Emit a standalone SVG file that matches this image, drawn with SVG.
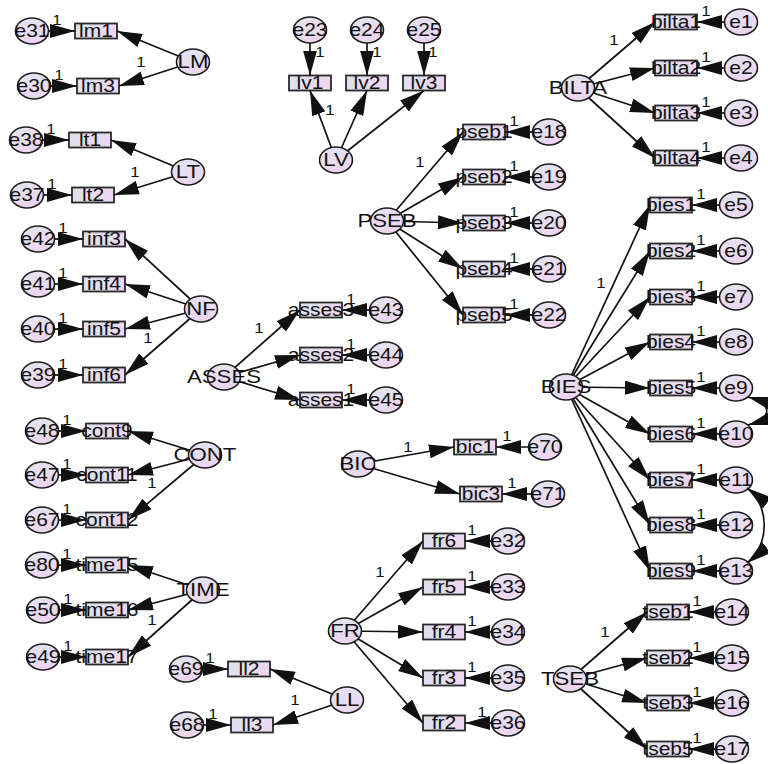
<svg xmlns="http://www.w3.org/2000/svg" width="768" height="764" viewBox="0 0 768 764">
<defs>
  <linearGradient id="gE" x1="0" y1="0" x2="0.4" y2="1">
    <stop offset="0" stop-color="#e3e5f1"/>
    <stop offset="1" stop-color="#ecd5f0"/>
  </linearGradient>
  <linearGradient id="gR" x1="0" y1="0" x2="1" y2="0">
    <stop offset="0" stop-color="#dde2ee"/>
    <stop offset="1" stop-color="#eed6f0"/>
  </linearGradient>
  <marker id="ah" viewBox="0 0 25 14" refX="25" refY="7" markerWidth="25" markerHeight="14" markerUnits="userSpaceOnUse" orient="auto-start-reverse">
    <path d="M0,0 L25,7 L0,14 z" fill="#111"/>
  </marker>
</defs>
<style>
  text { font-family: "Liberation Sans", Arial, sans-serif; fill: #111; text-anchor: middle; transform-box: fill-box; transform-origin: center; transform: scaleX(1.2); }
  .obs rect { fill: url(#gR); stroke: #2a2a2a; stroke-width: 1.8; }
  .err ellipse, .lat ellipse { fill: url(#gE); stroke: #1e1e1e; stroke-width: 1.6; }
  .obs text, .err text { font-size: 17.5px; }
  .lat text { font-size: 18.5px; }
  .cn line, .cn path { stroke: #111; stroke-width: 1.7; fill: none; marker-end: url(#ah); }
  .cn path.cov { marker-start: url(#ah); }
  .w text { font-size: 14px; }
</style>
<rect width="768" height="764" fill="#ffffff"/>

<!-- observed indicators -->
<g id="indicators">
  <g id="lm1" class="obs"><rect x="75" y="23.5" width="42" height="15"/><text x="96" y="37">lm1</text></g>
  <g id="lm3" class="obs"><rect x="77" y="78.5" width="42" height="15"/><text x="98" y="92">lm3</text></g>
  <g id="lt1" class="obs"><rect x="69" y="132.5" width="42" height="15"/><text x="90" y="146">lt1</text></g>
  <g id="lt2" class="obs"><rect x="72" y="187.5" width="42" height="15"/><text x="93" y="201">lt2</text></g>
  <g id="inf3" class="obs"><rect x="83" y="231.5" width="42" height="15"/><text x="104" y="245">inf3</text></g>
  <g id="inf4" class="obs"><rect x="83" y="276.5" width="42" height="15"/><text x="104" y="290">inf4</text></g>
  <g id="inf5" class="obs"><rect x="83" y="321.5" width="42" height="15"/><text x="104" y="335">inf5</text></g>
  <g id="inf6" class="obs"><rect x="83" y="367.5" width="42" height="15"/><text x="104" y="381">inf6</text></g>
  <g id="cont9" class="obs"><rect x="86" y="423.5" width="42" height="15"/><text x="107" y="437">cont9</text></g>
  <g id="cont11" class="obs"><rect x="86" y="467.5" width="42" height="15"/><text x="107" y="481">cont11</text></g>
  <g id="cont12" class="obs"><rect x="86" y="512.5" width="42" height="15"/><text x="107" y="526">cont12</text></g>
  <g id="time15" class="obs"><rect x="86" y="557.5" width="42" height="15"/><text x="107" y="571">time15</text></g>
  <g id="time16" class="obs"><rect x="86" y="602.5" width="42" height="15"/><text x="107" y="616">time16</text></g>
  <g id="time17" class="obs"><rect x="86" y="649.5" width="42" height="15"/><text x="107" y="663">time17</text></g>
  <g id="ll2" class="obs"><rect x="228" y="661.5" width="42" height="15"/><text x="249" y="675">ll2</text></g>
  <g id="ll3" class="obs"><rect x="231" y="717.5" width="42" height="15"/><text x="252" y="731">ll3</text></g>
  <g id="lv1" class="obs"><rect x="289" y="75.5" width="42" height="15"/><text x="310" y="89">lv1</text></g>
  <g id="lv2" class="obs"><rect x="346" y="75.5" width="42" height="15"/><text x="367" y="89">lv2</text></g>
  <g id="lv3" class="obs"><rect x="403" y="75.5" width="42" height="15"/><text x="424" y="89">lv3</text></g>
  <g id="pseb1" class="obs"><rect x="463" y="124.5" width="42" height="15"/><text x="484" y="138">pseb1</text></g>
  <g id="pseb2" class="obs"><rect x="463" y="169.5" width="42" height="15"/><text x="484" y="183">pseb2</text></g>
  <g id="pseb3" class="obs"><rect x="463" y="215.5" width="42" height="15"/><text x="484" y="229">pseb3</text></g>
  <g id="pseb4" class="obs"><rect x="463" y="261.5" width="42" height="15"/><text x="484" y="275">pseb4</text></g>
  <g id="pseb5" class="obs"><rect x="463" y="307.5" width="42" height="15"/><text x="484" y="321">pseb5</text></g>
  <g id="asses3" class="obs"><rect x="300" y="302.5" width="42" height="15"/><text x="321" y="316">asses3</text></g>
  <g id="asses2" class="obs"><rect x="300" y="347.5" width="42" height="15"/><text x="321" y="361">asses2</text></g>
  <g id="asses1" class="obs"><rect x="300" y="392.5" width="42" height="15"/><text x="321" y="406">asses1</text></g>
  <g id="bic1" class="obs"><rect x="454" y="439.5" width="42" height="15"/><text x="475" y="453">bic1</text></g>
  <g id="bic3" class="obs"><rect x="460" y="486.5" width="42" height="15"/><text x="481" y="500">bic3</text></g>
  <g id="fr6" class="obs"><rect x="423" y="533.5" width="42" height="15"/><text x="444" y="547">fr6</text></g>
  <g id="fr5" class="obs"><rect x="423" y="579.5" width="42" height="15"/><text x="444" y="593">fr5</text></g>
  <g id="fr4" class="obs"><rect x="423" y="624.5" width="42" height="15"/><text x="444" y="638">fr4</text></g>
  <g id="fr3" class="obs"><rect x="423" y="670.5" width="42" height="15"/><text x="444" y="684">fr3</text></g>
  <g id="fr2" class="obs"><rect x="423" y="715.5" width="42" height="15"/><text x="444" y="729">fr2</text></g>
  <g id="bilta1" class="obs"><rect x="655" y="14.5" width="42" height="15"/><text x="676" y="28">bilta1</text></g>
  <g id="bilta2" class="obs"><rect x="655" y="60.5" width="42" height="15"/><text x="676" y="74">bilta2</text></g>
  <g id="bilta3" class="obs"><rect x="655" y="105.5" width="42" height="15"/><text x="676" y="119">bilta3</text></g>
  <g id="bilta4" class="obs"><rect x="655" y="150.5" width="42" height="15"/><text x="676" y="164">bilta4</text></g>
  <g id="bies1" class="obs"><rect x="650" y="197.5" width="42" height="15"/><text x="671" y="211">bies1</text></g>
  <g id="bies2" class="obs"><rect x="650" y="243.5" width="42" height="15"/><text x="671" y="257">bies2</text></g>
  <g id="bies3" class="obs"><rect x="650" y="289.5" width="42" height="15"/><text x="671" y="303">bies3</text></g>
  <g id="bies4" class="obs"><rect x="650" y="334.5" width="42" height="15"/><text x="671" y="348">bies4</text></g>
  <g id="bies5" class="obs"><rect x="650" y="380.5" width="42" height="15"/><text x="671" y="394">bies5</text></g>
  <g id="bies6" class="obs"><rect x="650" y="426.5" width="42" height="15"/><text x="671" y="440">bies6</text></g>
  <g id="bies7" class="obs"><rect x="650" y="472.5" width="42" height="15"/><text x="671" y="486">bies7</text></g>
  <g id="bies8" class="obs"><rect x="650" y="517.5" width="42" height="15"/><text x="671" y="531">bies8</text></g>
  <g id="bies9" class="obs"><rect x="650" y="563.5" width="42" height="15"/><text x="671" y="577">bies9</text></g>
  <g id="tseb1" class="obs"><rect x="647" y="604.5" width="42" height="15"/><text x="668" y="618">tseb1</text></g>
  <g id="tseb2" class="obs"><rect x="647" y="650.5" width="42" height="15"/><text x="668" y="664">tseb2</text></g>
  <g id="tseb3" class="obs"><rect x="647" y="695.5" width="42" height="15"/><text x="668" y="709">tseb3</text></g>
  <g id="tseb5" class="obs"><rect x="647" y="741.5" width="42" height="15"/><text x="668" y="755">tseb5</text></g>
</g>

<!-- error terms -->
<g id="errors">
  <g id="e31" class="err"><ellipse cx="32" cy="31" rx="16.5" ry="13"/><text x="32" y="37">e31</text></g>
  <g id="e30" class="err"><ellipse cx="34" cy="86" rx="16.5" ry="13"/><text x="34" y="92">e30</text></g>
  <g id="e38" class="err"><ellipse cx="26" cy="140" rx="16.5" ry="13"/><text x="26" y="146">e38</text></g>
  <g id="e37" class="err"><ellipse cx="27" cy="195" rx="16.5" ry="13"/><text x="27" y="201">e37</text></g>
  <g id="e42" class="err"><ellipse cx="38" cy="239" rx="16.5" ry="13"/><text x="38" y="245">e42</text></g>
  <g id="e41" class="err"><ellipse cx="38" cy="284" rx="16.5" ry="13"/><text x="38" y="290">e41</text></g>
  <g id="e40" class="err"><ellipse cx="38" cy="329" rx="16.5" ry="13"/><text x="38" y="335">e40</text></g>
  <g id="e39" class="err"><ellipse cx="38" cy="375" rx="16.5" ry="13"/><text x="38" y="381">e39</text></g>
  <g id="e48" class="err"><ellipse cx="42" cy="431" rx="16.5" ry="13"/><text x="42" y="437">e48</text></g>
  <g id="e47" class="err"><ellipse cx="42" cy="475" rx="16.5" ry="13"/><text x="42" y="481">e47</text></g>
  <g id="e67" class="err"><ellipse cx="42" cy="520" rx="16.5" ry="13"/><text x="42" y="526">e67</text></g>
  <g id="e80" class="err"><ellipse cx="42" cy="565" rx="16.5" ry="13"/><text x="42" y="571">e80</text></g>
  <g id="e50" class="err"><ellipse cx="43" cy="610" rx="16.5" ry="13"/><text x="43" y="616">e50</text></g>
  <g id="e49" class="err"><ellipse cx="43" cy="657" rx="16.5" ry="13"/><text x="43" y="663">e49</text></g>
  <g id="e69" class="err"><ellipse cx="186" cy="669" rx="16.5" ry="13"/><text x="186" y="675">e69</text></g>
  <g id="e68" class="err"><ellipse cx="187" cy="725" rx="16.5" ry="13"/><text x="187" y="731">e68</text></g>
  <g id="e23" class="err"><ellipse cx="310" cy="30" rx="16.5" ry="13"/><text x="310" y="36">e23</text></g>
  <g id="e24" class="err"><ellipse cx="367" cy="30" rx="16.5" ry="13"/><text x="367" y="36">e24</text></g>
  <g id="e25" class="err"><ellipse cx="424" cy="30" rx="16.5" ry="13"/><text x="424" y="36">e25</text></g>
  <g id="e18" class="err"><ellipse cx="549" cy="132" rx="16.5" ry="13"/><text x="549" y="138">e18</text></g>
  <g id="e19" class="err"><ellipse cx="549" cy="177" rx="16.5" ry="13"/><text x="549" y="183">e19</text></g>
  <g id="e20" class="err"><ellipse cx="549" cy="223" rx="16.5" ry="13"/><text x="549" y="229">e20</text></g>
  <g id="e21" class="err"><ellipse cx="549" cy="269" rx="16.5" ry="13"/><text x="549" y="275">e21</text></g>
  <g id="e22" class="err"><ellipse cx="549" cy="315" rx="16.5" ry="13"/><text x="549" y="321">e22</text></g>
  <g id="e43" class="err"><ellipse cx="386" cy="310" rx="16.5" ry="13"/><text x="386" y="316">e43</text></g>
  <g id="e44" class="err"><ellipse cx="386" cy="355" rx="16.5" ry="13"/><text x="386" y="361">e44</text></g>
  <g id="e45" class="err"><ellipse cx="386" cy="400" rx="16.5" ry="13"/><text x="386" y="406">e45</text></g>
  <g id="e70" class="err"><ellipse cx="545" cy="447" rx="16.5" ry="13"/><text x="545" y="453">e70</text></g>
  <g id="e71" class="err"><ellipse cx="548" cy="494" rx="16.5" ry="13"/><text x="548" y="500">e71</text></g>
  <g id="e32" class="err"><ellipse cx="508" cy="541" rx="16.5" ry="13"/><text x="508" y="547">e32</text></g>
  <g id="e33" class="err"><ellipse cx="508" cy="587" rx="16.5" ry="13"/><text x="508" y="593">e33</text></g>
  <g id="e34" class="err"><ellipse cx="508" cy="632" rx="16.5" ry="13"/><text x="508" y="638">e34</text></g>
  <g id="e35" class="err"><ellipse cx="508" cy="678" rx="16.5" ry="13"/><text x="508" y="684">e35</text></g>
  <g id="e36" class="err"><ellipse cx="508" cy="723" rx="16.5" ry="13"/><text x="508" y="729">e36</text></g>
  <g id="e1" class="err"><ellipse cx="741" cy="22" rx="16.5" ry="13"/><text x="741" y="28">e1</text></g>
  <g id="e2" class="err"><ellipse cx="741" cy="68" rx="16.5" ry="13"/><text x="741" y="74">e2</text></g>
  <g id="e3" class="err"><ellipse cx="741" cy="113" rx="16.5" ry="13"/><text x="741" y="119">e3</text></g>
  <g id="e4" class="err"><ellipse cx="741" cy="158" rx="16.5" ry="13"/><text x="741" y="164">e4</text></g>
  <g id="e5" class="err"><ellipse cx="736" cy="205" rx="16.5" ry="13"/><text x="736" y="211">e5</text></g>
  <g id="e6" class="err"><ellipse cx="736" cy="251" rx="16.5" ry="13"/><text x="736" y="257">e6</text></g>
  <g id="e7" class="err"><ellipse cx="736" cy="297" rx="16.5" ry="13"/><text x="736" y="303">e7</text></g>
  <g id="e8" class="err"><ellipse cx="736" cy="342" rx="16.5" ry="13"/><text x="736" y="348">e8</text></g>
  <g id="e9" class="err"><ellipse cx="736" cy="388" rx="16.5" ry="13"/><text x="736" y="394">e9</text></g>
  <g id="e10" class="err"><ellipse cx="736" cy="434" rx="16.5" ry="13"/><text x="736" y="440">e10</text></g>
  <g id="e11" class="err"><ellipse cx="736" cy="480" rx="16.5" ry="13"/><text x="736" y="486">e11</text></g>
  <g id="e12" class="err"><ellipse cx="736" cy="525" rx="16.5" ry="13"/><text x="736" y="531">e12</text></g>
  <g id="e13" class="err"><ellipse cx="736" cy="571" rx="16.5" ry="13"/><text x="736" y="577">e13</text></g>
  <g id="e14" class="err"><ellipse cx="732" cy="612" rx="16.5" ry="13"/><text x="732" y="618">e14</text></g>
  <g id="e15" class="err"><ellipse cx="732" cy="658" rx="16.5" ry="13"/><text x="732" y="664">e15</text></g>
  <g id="e16" class="err"><ellipse cx="732" cy="703" rx="16.5" ry="13"/><text x="732" y="709">e16</text></g>
  <g id="e17" class="err"><ellipse cx="732" cy="749" rx="16.5" ry="13"/><text x="732" y="755">e17</text></g>
</g>

<!-- paths, error arrows, covariances and fixed weights -->
<g id="connectors" class="cn">
  <!-- error -> indicator -->
  <line x1="48.5" y1="31" x2="75" y2="31"/>
  <line x1="50.5" y1="86" x2="77" y2="86"/>
  <line x1="42.5" y1="140" x2="69" y2="140"/>
  <line x1="43.5" y1="195" x2="72" y2="195"/>
  <line x1="54.5" y1="239" x2="83" y2="239"/>
  <line x1="54.5" y1="284" x2="83" y2="284"/>
  <line x1="54.5" y1="329" x2="83" y2="329"/>
  <line x1="54.5" y1="375" x2="83" y2="375"/>
  <line x1="58.5" y1="431" x2="86" y2="431"/>
  <line x1="58.5" y1="475" x2="86" y2="475"/>
  <line x1="58.5" y1="520" x2="86" y2="520"/>
  <line x1="58.5" y1="565" x2="86" y2="565"/>
  <line x1="59.5" y1="610" x2="86" y2="610"/>
  <line x1="59.5" y1="657" x2="86" y2="657"/>
  <line x1="202.5" y1="669" x2="228" y2="669"/>
  <line x1="203.5" y1="725" x2="231" y2="725"/>
  <line x1="310" y1="43" x2="310" y2="75.5"/>
  <line x1="367" y1="43" x2="367" y2="75.5"/>
  <line x1="424" y1="43" x2="424" y2="75.5"/>
  <line x1="532.5" y1="132" x2="505" y2="132"/>
  <line x1="532.5" y1="177" x2="505" y2="177"/>
  <line x1="532.5" y1="223" x2="505" y2="223"/>
  <line x1="532.5" y1="269" x2="505" y2="269"/>
  <line x1="532.5" y1="315" x2="505" y2="315"/>
  <line x1="369.5" y1="310" x2="342" y2="310"/>
  <line x1="369.5" y1="355" x2="342" y2="355"/>
  <line x1="369.5" y1="400" x2="342" y2="400"/>
  <line x1="528.5" y1="447" x2="496" y2="447"/>
  <line x1="531.5" y1="494" x2="502" y2="494"/>
  <line x1="491.5" y1="541" x2="465" y2="541"/>
  <line x1="491.5" y1="587" x2="465" y2="587"/>
  <line x1="491.5" y1="632" x2="465" y2="632"/>
  <line x1="491.5" y1="678" x2="465" y2="678"/>
  <line x1="491.5" y1="723" x2="465" y2="723"/>
  <line x1="724.5" y1="22" x2="697" y2="22"/>
  <line x1="724.5" y1="68" x2="697" y2="68"/>
  <line x1="724.5" y1="113" x2="697" y2="113"/>
  <line x1="724.5" y1="158" x2="697" y2="158"/>
  <line x1="719.5" y1="205" x2="692" y2="205"/>
  <line x1="719.5" y1="251" x2="692" y2="251"/>
  <line x1="719.5" y1="297" x2="692" y2="297"/>
  <line x1="719.5" y1="342" x2="692" y2="342"/>
  <line x1="719.5" y1="388" x2="692" y2="388"/>
  <line x1="719.5" y1="434" x2="692" y2="434"/>
  <line x1="719.5" y1="480" x2="692" y2="480"/>
  <line x1="719.5" y1="525" x2="692" y2="525"/>
  <line x1="719.5" y1="571" x2="692" y2="571"/>
  <line x1="715.5" y1="612" x2="689" y2="612"/>
  <line x1="715.5" y1="658" x2="689" y2="658"/>
  <line x1="715.5" y1="703" x2="689" y2="703"/>
  <line x1="715.5" y1="749" x2="689" y2="749"/>

  <!-- latent -> indicator -->
  <line x1="193" y1="62" x2="117" y2="31"/>
  <line x1="193" y1="62" x2="119" y2="86"/>
  <line x1="188" y1="172" x2="111" y2="140"/>
  <line x1="188" y1="172" x2="114" y2="195"/>
  <line x1="201" y1="309" x2="125" y2="239"/>
  <line x1="201" y1="309" x2="125" y2="284"/>
  <line x1="201" y1="309" x2="125" y2="329"/>
  <line x1="201" y1="309" x2="125" y2="375"/>
  <line x1="205" y1="455" x2="128" y2="431"/>
  <line x1="205" y1="455" x2="128" y2="475"/>
  <line x1="205" y1="455" x2="128" y2="520"/>
  <line x1="203" y1="590" x2="128" y2="565"/>
  <line x1="203" y1="590" x2="128" y2="610"/>
  <line x1="203" y1="590" x2="128" y2="657"/>
  <line x1="347" y1="700" x2="270" y2="669"/>
  <line x1="347" y1="700" x2="273" y2="725"/>
  <line x1="336" y1="160" x2="310" y2="90.5"/>
  <line x1="336" y1="160" x2="367" y2="90.5"/>
  <line x1="336" y1="160" x2="424" y2="90.5"/>
  <line x1="387" y1="221" x2="463" y2="132"/>
  <line x1="387" y1="221" x2="463" y2="177"/>
  <line x1="387" y1="221" x2="463" y2="223"/>
  <line x1="387" y1="221" x2="463" y2="269"/>
  <line x1="387" y1="221" x2="463" y2="315"/>
  <line x1="224" y1="377" x2="300" y2="310"/>
  <line x1="224" y1="377" x2="300" y2="355"/>
  <line x1="224" y1="377" x2="300" y2="400"/>
  <line x1="358" y1="464" x2="454" y2="447"/>
  <line x1="358" y1="464" x2="460" y2="494"/>
  <line x1="345" y1="631" x2="423" y2="541"/>
  <line x1="345" y1="631" x2="423" y2="587"/>
  <line x1="345" y1="631" x2="423" y2="632"/>
  <line x1="345" y1="631" x2="423" y2="678"/>
  <line x1="345" y1="631" x2="423" y2="723"/>
  <line x1="578" y1="88" x2="655" y2="22"/>
  <line x1="578" y1="88" x2="655" y2="68"/>
  <line x1="578" y1="88" x2="655" y2="113"/>
  <line x1="578" y1="88" x2="655" y2="158"/>
  <line x1="566" y1="387" x2="650" y2="205"/>
  <line x1="566" y1="387" x2="650" y2="251"/>
  <line x1="566" y1="387" x2="650" y2="297"/>
  <line x1="566" y1="387" x2="650" y2="342"/>
  <line x1="566" y1="387" x2="650" y2="388"/>
  <line x1="566" y1="387" x2="650" y2="434"/>
  <line x1="566" y1="387" x2="650" y2="480"/>
  <line x1="566" y1="387" x2="650" y2="525"/>
  <line x1="566" y1="387" x2="650" y2="571"/>
  <line x1="570" y1="679" x2="647" y2="612"/>
  <line x1="570" y1="679" x2="647" y2="658"/>
  <line x1="570" y1="679" x2="647" y2="703"/>
  <line x1="570" y1="679" x2="647" y2="749"/>

  <!-- error covariances -->
  <path class="cov" d="M748,397 C773,404 773,418 748,425"/>
  <path class="cov" d="M747,488 C770,505 770,545 747,563"/>

  <!-- fixed weights -->
  <g class="w">
    <text x="57" y="25">1</text>
    <text x="59" y="80">1</text>
    <text x="51" y="134">1</text>
    <text x="52" y="189">1</text>
    <text x="63" y="233">1</text>
    <text x="63" y="278">1</text>
    <text x="63" y="323">1</text>
    <text x="63" y="369">1</text>
    <text x="67" y="425">1</text>
    <text x="67" y="469">1</text>
    <text x="67" y="514">1</text>
    <text x="67" y="559">1</text>
    <text x="68" y="604">1</text>
    <text x="68" y="651">1</text>
    <text x="210" y="663">1</text>
    <text x="213" y="719">1</text>
    <text x="320" y="57">1</text>
    <text x="377" y="57">1</text>
    <text x="433" y="57">1</text>
    <text x="514" y="126">1</text>
    <text x="514" y="171">1</text>
    <text x="514" y="217">1</text>
    <text x="514" y="263">1</text>
    <text x="514" y="309">1</text>
    <text x="351" y="304">1</text>
    <text x="351" y="349">1</text>
    <text x="351" y="394">1</text>
    <text x="507" y="441">1</text>
    <text x="512" y="488">1</text>
    <text x="472" y="535">1</text>
    <text x="472" y="581">1</text>
    <text x="472" y="626">1</text>
    <text x="472" y="672">1</text>
    <text x="482" y="717">1</text>
    <text x="706" y="16">1</text>
    <text x="706" y="62">1</text>
    <text x="706" y="107">1</text>
    <text x="706" y="152">1</text>
    <text x="701" y="199">1</text>
    <text x="701" y="245">1</text>
    <text x="701" y="291">1</text>
    <text x="701" y="336">1</text>
    <text x="701" y="382">1</text>
    <text x="701" y="428">1</text>
    <text x="701" y="474">1</text>
    <text x="701" y="519">1</text>
    <text x="701" y="565">1</text>
    <text x="697" y="606">1</text>
    <text x="697" y="652">1</text>
    <text x="697" y="697">1</text>
    <text x="697" y="743">1</text>
    <text x="141" y="67">1</text>
    <text x="135" y="177">1</text>
    <text x="148" y="343">1</text>
    <text x="152" y="488">1</text>
    <text x="152" y="625">1</text>
    <text x="295" y="705">1</text>
    <text x="330" y="115">1</text>
    <text x="420" y="167">1</text>
    <text x="259" y="333">1</text>
    <text x="408" y="452">1</text>
    <text x="380" y="577">1</text>
    <text x="614" y="45">1</text>
    <text x="601" y="288">1</text>
    <text x="605" y="637">1</text>
  </g>
</g>

<!-- latent factors -->
<g id="latents">
  <g id="LM" class="lat"><ellipse cx="193" cy="62" rx="16.5" ry="13"/><text x="193" y="68.5">LM</text></g>
  <g id="LT" class="lat"><ellipse cx="188" cy="172" rx="16.5" ry="13"/><text x="188" y="178.5">LT</text></g>
  <g id="NF" class="lat"><ellipse cx="201" cy="309" rx="16.5" ry="13"/><text x="201" y="315.5">NF</text></g>
  <g id="CONT" class="lat"><ellipse cx="205" cy="455" rx="16.5" ry="13"/><text x="205" y="461.5">CONT</text></g>
  <g id="TIME" class="lat"><ellipse cx="203" cy="590" rx="16.5" ry="13"/><text x="203" y="596.5">TIME</text></g>
  <g id="LL" class="lat"><ellipse cx="347" cy="700" rx="16.5" ry="13"/><text x="347" y="706.5">LL</text></g>
  <g id="LV" class="lat"><ellipse cx="336" cy="160" rx="16.5" ry="13"/><text x="336" y="166.5">LV</text></g>
  <g id="PSEB" class="lat"><ellipse cx="387" cy="221" rx="16.5" ry="13"/><text x="387" y="227.5">PSEB</text></g>
  <g id="ASSES" class="lat"><ellipse cx="224" cy="377" rx="16.5" ry="13"/><text x="224" y="383.5">ASSES</text></g>
  <g id="BIC" class="lat"><ellipse cx="358" cy="464" rx="16.5" ry="13"/><text x="358" y="470.5">BIC</text></g>
  <g id="FR" class="lat"><ellipse cx="345" cy="631" rx="16.5" ry="13"/><text x="345" y="637.5">FR</text></g>
  <g id="BILTA" class="lat"><ellipse cx="578" cy="88" rx="16.5" ry="13"/><text x="578" y="94.5">BILTA</text></g>
  <g id="BIES" class="lat"><ellipse cx="566" cy="387" rx="16.5" ry="13"/><text x="566" y="393.5">BIES</text></g>
  <g id="TSEB" class="lat"><ellipse cx="570" cy="679" rx="16.5" ry="13"/><text x="570" y="685.5">TSEB</text></g>
</g>
</svg>
